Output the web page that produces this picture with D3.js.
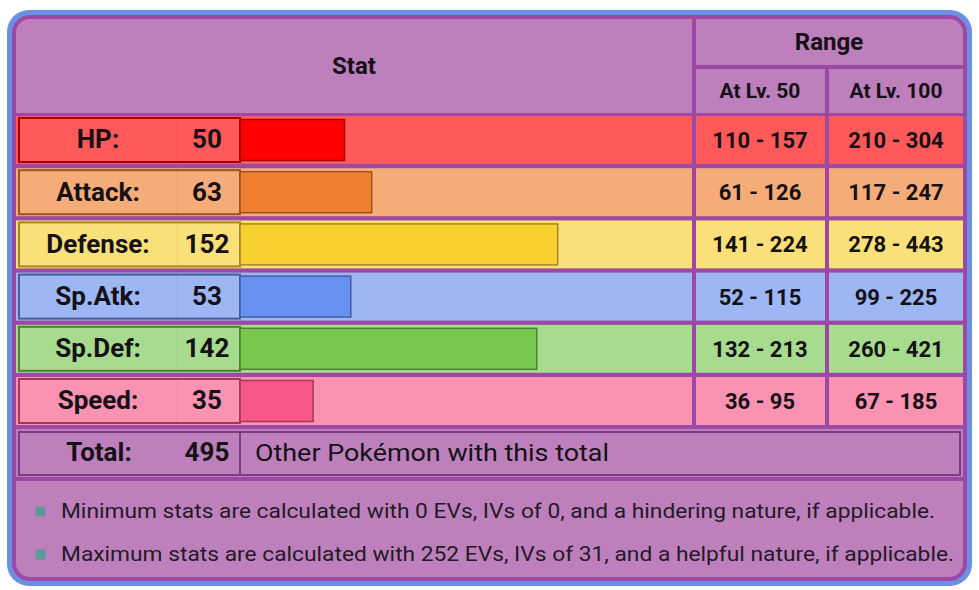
<!DOCTYPE html>
<html>
<head>
<meta charset="utf-8">
<script src="https://cdn.jsdelivr.net/npm/d3@7"></script>
<style>
  html, body { margin: 0; padding: 0; background: #ffffff; }
  svg { display: block; font-family: Roboto, "Noto Sans", sans-serif; }
</style>
</head>
<body>
<svg id="chart" width="979" height="590"></svg>
<script>
// ---- data ----
const statNames = ["HP:", "Attack:", "Defense:", "Sp.Atk:", "Sp.Def:", "Speed:"];
const baseStats = [50, 63, 152, 53, 142, 35];
const lv50Min = [110, 61, 141, 52, 132, 36];
const lv50Max = [157, 126, 224, 115, 213, 95];
const lv100Min = [210, 117, 278, 99, 260, 67];
const lv100Max = [304, 247, 443, 225, 421, 185];
const headerLabels = ["Stat", "Range", "At Lv. 50", "At Lv. 100"];
const totalLabel = "Total:";
const otherText = "Other Pokémon with this total";
const footnotes = [
  "Minimum stats are calculated with 0 EVs, IVs of 0, and a hindering nature, if applicable.",
  "Maximum stats are calculated with 252 EVs, IVs of 31, and a helpful nature, if applicable."
];
// colours per stat: row background, bar fill, border
const rowColors = ["#FF5959", "#F5AC78", "#FAE078", "#9DB7F5", "#A7DB8D", "#FA92B2"];
const barColors = ["#FF0000", "#F08030", "#F8D030", "#6890F0", "#78C850", "#F85888"];
const edgeColors = ["#A60000", "#9C531F", "#A1871F", "#445E9C", "#4E8234", "#A13959"];

// ---- drawing ----
const svg = d3.select("#chart");
const PURPLE = "#BD80BD", DARK = "#9C48A4", BOXEDGE = "#7D3A84", BLUE = "#6B8FE2", INK = "#161116";

const y = d3.scaleBand().domain(statNames).range([116, 425]).paddingInner(0.0805).paddingOuter(0);
const barX0 = 240;
const x = d3.scaleLinear().domain([0, 255]).range([0, 533]);

// outer frames
svg.append("rect").attr("x", 7).attr("y", 10).attr("width", 965).attr("height", 576).attr("rx", 22).attr("fill", BLUE);
svg.append("rect").attr("x", 12).attr("y", 15).attr("width", 955).attr("height", 566).attr("rx", 18).attr("fill", DARK);

// rounded-corner path helper
function roundRect(x0, y0, w, h, r) { // [tl,tr,br,bl]
  const [tl, tr, br, bl] = r;
  return `M${x0+tl},${y0} H${x0+w-tr} A${tr},${tr} 0 0 1 ${x0+w},${y0+tr} V${y0+h-br} A${br},${br} 0 0 1 ${x0+w-br},${y0+h} H${x0+bl} A${bl},${bl} 0 0 1 ${x0},${y0+h-bl} V${y0+tl} A${tl},${tl} 0 0 1 ${x0+tl},${y0} Z`;
}

// header cells
svg.append("path").attr("d", roundRect(16, 19, 676, 94, [14, 0, 0, 0])).attr("fill", PURPLE);
svg.append("path").attr("d", roundRect(696, 19, 267, 46, [0, 14, 0, 0])).attr("fill", PURPLE);
svg.append("rect").attr("x", 696).attr("y", 69).attr("width", 129).attr("height", 44).attr("fill", PURPLE);
svg.append("rect").attr("x", 829).attr("y", 69).attr("width", 134).attr("height", 44).attr("fill", PURPLE);

const hdr = svg.append("g").attr("font-weight", "bold").attr("fill", INK).attr("text-anchor", "middle");
hdr.append("text").attr("x", 354).attr("y", 74).attr("font-size", 24).text(headerLabels[0]);
hdr.append("text").attr("x", 829).attr("y", 50).attr("font-size", 24).text(headerLabels[1]);
hdr.append("text").attr("x", 760).attr("y", 98).attr("font-size", 21).text(headerLabels[2]);
hdr.append("text").attr("x", 896).attr("y", 98).attr("font-size", 21).text(headerLabels[3]);

// stat rows
const rows = svg.selectAll("g.row").data(statNames).join("g").attr("class", "row")
  .attr("transform", d => `translate(0,${y(d)})`);
const bw = y.bandwidth();

rows.append("rect").attr("x", 16).attr("y", 0).attr("width", 676).attr("height", bw)
  .attr("fill", (d, i) => rowColors[i]);
rows.append("rect").attr("x", 19).attr("y", 2).attr("width", 221).attr("height", bw - 4)
  .attr("fill", (d, i) => rowColors[i]).attr("stroke", (d, i) => edgeColors[i]).attr("stroke-width", 2);
rows.append("line").attr("x1", 177).attr("x2", 177).attr("y1", 3).attr("y2", bw - 3)
  .attr("stroke", "#000").attr("stroke-opacity", 0.06).attr("stroke-width", 1);
rows.append("rect").attr("x", barX0).attr("y", 3.5)
  .attr("width", (d, i) => x(baseStats[i])).attr("height", bw - 7)
  .attr("fill", (d, i) => barColors[i]).attr("stroke", (d, i) => edgeColors[i]).attr("stroke-width", 1.5);
rows.append("text").attr("x", 98).attr("y", bw / 2 + 8.5).attr("text-anchor", "middle")
  .attr("font-size", 26).attr("font-weight", "bold").attr("fill", INK).text(d => d);
rows.append("text").attr("x", 207).attr("y", bw / 2 + 8.5).attr("text-anchor", "middle")
  .attr("font-size", 26).attr("font-weight", "bold").attr("fill", INK).text((d, i) => baseStats[i]);

// range cells
rows.append("rect").attr("x", 696).attr("y", 0).attr("width", 129).attr("height", bw).attr("fill", (d, i) => rowColors[i]);
rows.append("rect").attr("x", 829).attr("y", 0).attr("width", 134).attr("height", bw).attr("fill", (d, i) => rowColors[i]);
rows.append("text").attr("x", 760).attr("y", bw / 2 + 8).attr("text-anchor", "middle")
  .attr("font-size", 22).attr("font-weight", "bold").attr("fill", INK)
  .text((d, i) => `${lv50Min[i]} - ${lv50Max[i]}`);
rows.append("text").attr("x", 896).attr("y", bw / 2 + 8).attr("text-anchor", "middle")
  .attr("font-size", 22).attr("font-weight", "bold").attr("fill", INK)
  .text((d, i) => `${lv100Min[i]} - ${lv100Max[i]}`);

// total row
svg.append("rect").attr("x", 16).attr("y", 429).attr("width", 947).attr("height", 48).attr("fill", PURPLE);
svg.append("rect").attr("x", 19).attr("y", 432).attr("width", 221).attr("height", 43)
  .attr("fill", PURPLE).attr("stroke", BOXEDGE).attr("stroke-width", 2);
svg.append("rect").attr("x", 240).attr("y", 432).attr("width", 720).attr("height", 43)
  .attr("fill", PURPLE).attr("stroke", BOXEDGE).attr("stroke-width", 2);
svg.append("text").attr("x", 99).attr("y", 461).attr("text-anchor", "middle")
  .attr("font-size", 26).attr("font-weight", "bold").attr("fill", INK).text(totalLabel);
svg.append("text").attr("x", 207).attr("y", 461).attr("text-anchor", "middle")
  .attr("font-size", 26).attr("font-weight", "bold").attr("fill", INK).text(d3.sum(baseStats));
svg.append("text").attr("x", 255).attr("y", 461)
  .attr("font-size", 24.5).attr("fill", INK)
  .attr("textLength", 354).attr("lengthAdjust", "spacingAndGlyphs").text(otherText);

// footer
const footWidths = [874, 893];
svg.append("path").attr("d", roundRect(16, 481, 947, 96, [0, 0, 14, 14])).attr("fill", PURPLE);
const foot = svg.selectAll("g.note").data(footnotes).join("g").attr("class", "note")
  .attr("transform", (d, i) => `translate(0,${518 + i * 43})`);
foot.append("rect").attr("x", 35.5).attr("y", -11.5).attr("width", 10).attr("height", 10).attr("fill", "#5B9A98");
foot.append("text").attr("x", 61).attr("y", 0).attr("font-size", 21).attr("fill", "#241a24")
  .attr("textLength", (d, i) => footWidths[i]).attr("lengthAdjust", "spacingAndGlyphs").text(d => d);
</script>
</body>
</html>
